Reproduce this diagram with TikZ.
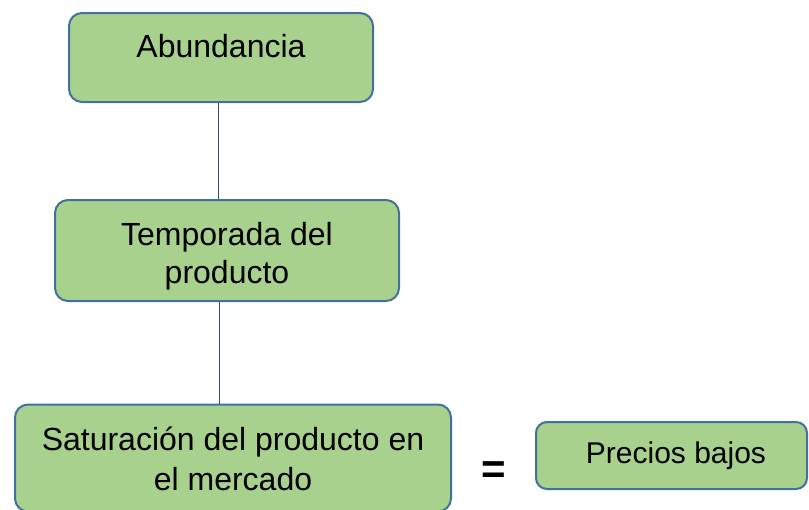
\documentclass[tikz,border=0pt]{standalone}
\usepackage{fontspec}
\setmainfont{Liberation Sans}
\begin{document}
\begin{tikzpicture}[x=1pt,y=-1pt,
  greenbox/.style={draw=boxblue,fill=boxgreen,line width=2pt,rounded corners=13pt,inner sep=0pt},
  lbl/.style={font=\fontsize{32}{38}\selectfont,align=center,inner sep=0pt,anchor=base},
  link/.style={draw=lineblue,line width=1pt}]
\definecolor{boxgreen}{HTML}{A9D18E}
\definecolor{boxblue}{HTML}{41719C}
\definecolor{lineblue}{HTML}{2F4F80}
\useasboundingbox (0,0) rectangle (809,509);
\clip (0,0) rectangle (809,509);
\node[greenbox,minimum width=304pt,minimum height=89pt] (b1) at (221,57.5) {};
\node[greenbox,minimum width=344pt,minimum height=101pt] (b2) at (227,250.5) {};
\node[greenbox,minimum width=436pt,minimum height=107pt] (b3) at (233,458) {};
\node[greenbox,minimum width=271pt,minimum height=67pt,rounded corners=11pt] (b4) at (671.5,455.5) {};
\coordinate (v1) at (218,0);
\coordinate (v2) at (219,0);
\draw[link] (v1 |- b1.south) -- (v1 |- b2.north);
\draw[link] (v2 |- b2.south) -- (v2 |- b3.north);
\node[lbl] (t1) at (221,57) {Abundancia};
\node[lbl] (t2) at (227,283) {Temporada del\\producto};
\node[lbl,font=\fontsize{32}{40}\selectfont] (t3) at (233,490) {Saturación del producto en\\el mercado};
\node[lbl,font=\fontsize{30}{36}\selectfont] (t4) at (676,463) {Precios bajos};
\node[font=\fontsize{42}{50}\selectfont\bfseries,inner sep=0pt] (eq) at (494,473) {=};
\end{tikzpicture}
\end{document}
